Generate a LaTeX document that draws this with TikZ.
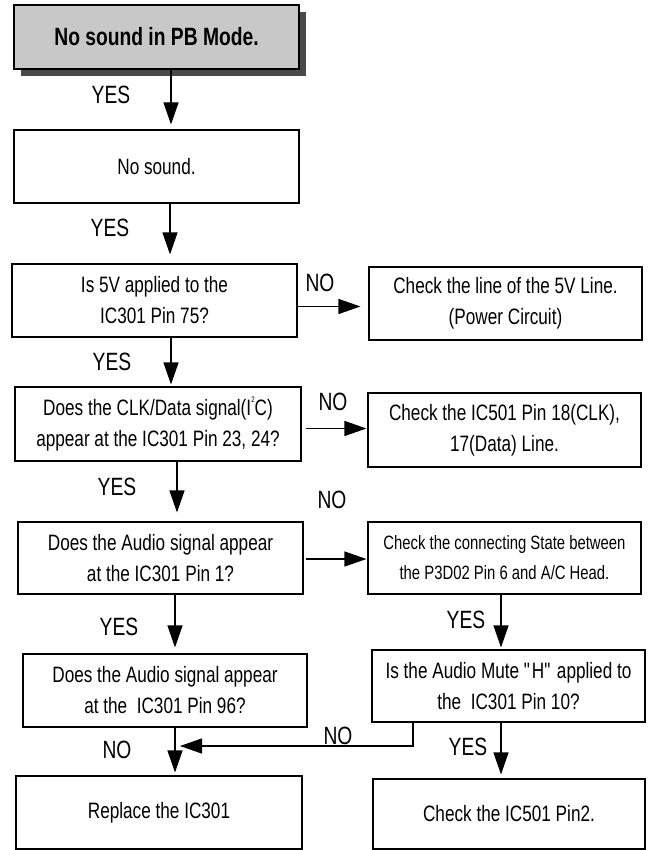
\documentclass[tikz,border=0pt]{standalone}
\usepackage{fontspec}
\setmainfont{Liberation Sans}[FakeStretch=0.77]
\usetikzlibrary{arrows.meta,shadows}
\definecolor{pbgray}{HTML}{C8C8C8}
\definecolor{pbshadow}{HTML}{4A4A4A}

\begin{document}
\begin{tikzpicture}[x=1pt,y=-1pt,
  box/.style={draw,line width=1.1pt,align=center,inner sep=0pt,font=\fontsize{22.3}{31}\selectfont},
  lbl/.style={inner sep=0pt,font=\fontsize{25}{30}\selectfont},
  arr/.style={line width=1.1pt,-{Triangle[length=22pt,width=15pt]}}]
  \useasboundingbox (0,0) rectangle (648,850);
  \node[box,fill=pbgray,drop shadow={shadow xshift=7pt,shadow yshift=-7pt,fill=pbshadow,opacity=1},minimum width=285pt,minimum height=64pt,font=\fontsize{25}{30}\selectfont\bfseries] (title) at (156.5,37) {No sound in PB Mode.};
  \node[box,minimum width=285pt,minimum height=73pt] (nosnd) at (156.5,166.5) {No sound.};
  \node[box,minimum width=285pt,minimum height=73pt] (q5v) at (154.5,300.5) {Is 5V applied to the\\IC301 Pin 75?};
  \node[box,minimum width=273pt,minimum height=73pt] (c5v) at (505.5,303.5) {Check the line of the 5V Line.\\(Power Circuit)};
  \node[box,minimum width=286pt,minimum height=74pt] (qclk) at (158,424) {Does the CLK/Data signal(I\raisebox{1.1ex}{\fontsize{8}{8}\selectfont 2}C)\\appear at the IC301 Pin 23, 24?};
  \node[box,minimum width=273pt,minimum height=74pt] (cclk) at (504.5,430) {Check the IC501 Pin 18(CLK),\\17(Data) Line.};
  \node[box,minimum width=285pt,minimum height=72pt] (qpin1) at (160.5,558) {Does the Audio signal appear\\at the IC301 Pin 1?};
  \node[box,minimum width=273pt,minimum height=72pt,font=\fontsize{19.3}{30}\selectfont] (cconn) at (504.5,558) {Check the connecting State between\\the P3D02 Pin 6 and A/C Head.};
  \node[box,minimum width=284pt,minimum height=73pt] (qpin96) at (165,690.5) {Does the Audio signal appear\\at the\ \ IC301 Pin 96?};
  \node[box,minimum width=273pt,minimum height=72pt] (qmute) at (508.5,686) {Is the Audio Mute \textquotedbl H\textquotedbl{} applied to\\the\ \ IC301 Pin 10?};
  \node[box,minimum width=286pt,minimum height=73pt] (repl) at (159,812.5) {Replace the IC301};
  \node[box,minimum width=272pt,minimum height=70pt] (pin2) at (509,814) {Check the IC501 Pin2.};

  \coordinate (x1) at (171,0);
  \coordinate (x2) at (170,0);
  \coordinate (x3) at (171,0);
  \coordinate (x4) at (177,0);
  \coordinate (x5) at (175,0);
  \coordinate (x6) at (501,0);
  \coordinate (xno) at (413,0);
  \coordinate (y3) at (0,306.5);
  \coordinate (y4) at (0,428.5);
  \coordinate (y5) at (0,559);
  \coordinate (join) at (175,746);

  \draw[arr,shorten >=5pt] (title.south -| x1) -- (nosnd.north -| x1);
  \draw[arr,shorten >=9pt] (nosnd.south -| x2) -- (q5v.north -| x2);
  \draw[arr,shorten >=2pt] (q5v.south -| x3) -- (qclk.north -| x3);
  \draw[arr,shorten >=9pt] (qclk.south -| x4) -- (qpin1.north -| x4);
  \draw[arr,shorten >=6pt] (qpin1.south -| x5) -- (qpin96.north -| x5);
  \draw[arr,shorten >=3pt] (qpin96.south -| x5) -- (repl.north -| x5);
  \draw[arr,shorten >=2pt] (cconn.south -| x6) -- (qmute.north -| x6);
  \draw[arr,shorten >=4pt] (qmute.south -| x6) -- (pin2.north -| x6);
  \draw[arr,shorten >=8pt] (q5v.east |- y3) -- (c5v.west |- y3);
  \draw[arr,shorten <=4pt,shorten >=1pt] (qclk.east |- y4) -- (cclk.west |- y4);
  \draw[arr,shorten <=2pt,shorten >=1pt] (qpin1.east |- y5) -- (cconn.west |- y5);
  \draw[arr,shorten >=5pt] (qmute.south -| xno) |- (join);

  \node[lbl] (yes1) at (111,95) {YES};
  \node[lbl] (yes2) at (110,228) {YES};
  \node[lbl] (yes3) at (112,362) {YES};
  \node[lbl] (yes4) at (117,487) {YES};
  \node[lbl] (yes5) at (119,627) {YES};
  \node[lbl] (no5) at (117,750) {NO};
  \node[lbl] (no1) at (320,283) {NO};
  \node[lbl] (no2) at (333,402) {NO};
  \node[lbl] (no3) at (332,500) {NO};
  \node[lbl] (no4) at (338,736) {NO};
  \node[lbl] (yes6) at (466,620) {YES};
  \node[lbl] (yes7) at (468,747) {YES};
\end{tikzpicture}
\end{document}
